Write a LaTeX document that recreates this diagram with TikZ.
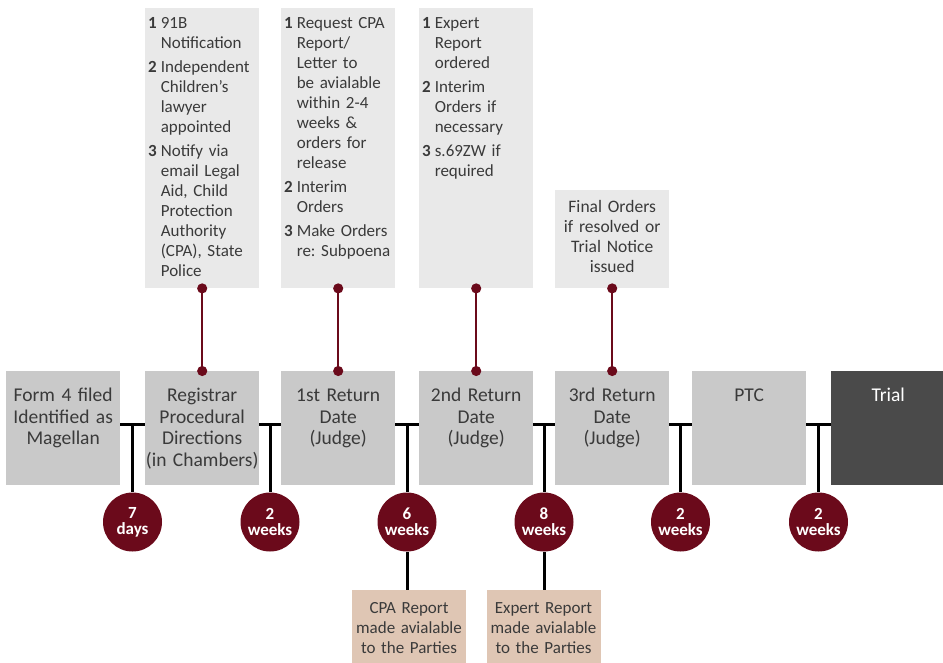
\documentclass[tikz,border=0pt]{standalone}
\usepackage{fontspec}
\setmainfont{Carlito}
\usetikzlibrary{arrows.meta}
\definecolor{wine}{HTML}{6B0A1B}
\definecolor{stagegrey}{HTML}{C9C9C9}
\definecolor{notegrey}{HTML}{E9E9E9}
\definecolor{trialgrey}{HTML}{4A4A4A}
\definecolor{sand}{HTML}{DFC6B4}
\definecolor{ink}{HTML}{3A3A3A}
\tikzset{
  stage/.style={fill=stagegrey,text=ink,anchor=north west,inner sep=0pt,
    minimum width=114pt,text width=114pt,align=center,
    text height=30.5pt,text depth=83.5pt,font=\fontsize{19.5}{21.5}\selectfont},
  note/.style={fill=notegrey,text=ink,anchor=north west,inner xsep=3pt,inner ysep=0pt,
    minimum width=114pt,text width=108pt,align=left,
    text height=20pt,text depth=260pt,font=\fontsize{17}{20}\selectfont},
  outcome/.style={fill=notegrey,text=ink,anchor=north west,inner sep=0pt,
    minimum width=114pt,text width=114pt,align=center,
    text height=22pt,text depth=76pt,font=\fontsize{17.5}{20}\selectfont},
  result/.style={fill=sand,text=ink,anchor=north,inner sep=0pt,
    minimum width=114pt,text width=114pt,align=center,
    text height=23pt,text depth=53pt,font=\fontsize{17}{20}\selectfont},
  gap/.style={circle,fill=wine,text=white,minimum size=59pt,inner sep=0pt,
    align=center,font=\bfseries\fontsize{17}{16}\selectfont},
  tline/.style={line width=3pt,black},
  link/.style={wine,line width=2pt,{Circle[length=10pt]}-{Circle[length=10pt]},
    shorten <=-5pt,shorten >=-5pt}
}
\begin{document}
\begin{tikzpicture}[x=1pt,y=-1pt]
    \useasboundingbox (0,0) rectangle (943,662);
    \coordinate (tl) at (0,424);
    % Stages
    \node[stage] (s1) at (6,371) {Form 4 filed\\Identified as\\Magellan};
    \node[stage] (s2) at (145,371) {Registrar\\Procedural\\Directions\\(in Chambers)};
    \node[stage] (s3) at (281,371) {1st Return\\Date\\(Judge)};
    \node[stage] (s4) at (419,371) {2nd Return\\Date\\(Judge)};
    \node[stage] (s5) at (555,371) {3rd Return\\Date\\(Judge)};
    \node[stage] (s6) at (692,371) {PTC};
    \node[stage,fill=trialgrey,text=white] (s7) at (831,371) {Trial};
    % Orders above
    \node[note] (n2) at (145,8) {\begin{tabular}[t]{@{}l@{\hspace{4pt}}l@{}}
      \textbf{1} & 91B\\ & Notification\\[4pt]
      \textbf{2} & Independent\\ & Children's\\ & lawyer\\ & appointed\\[4pt]
      \textbf{3} & Notify via\\ & email Legal\\ & Aid, Child\\ & Protection\\ & Authority\\ & (CPA), State\\ & Police
    \end{tabular}};
    \node[note] (n3) at (281,8) {\begin{tabular}[t]{@{}l@{\hspace{4pt}}l@{}}
      \textbf{1} & Request CPA\\ & Report/\\ & Letter to\\ & be avialable\\ & within 2-4\\ & weeks \&\\ & orders for\\ & release\\[4pt]
      \textbf{2} & Interim\\ & Orders\\[4pt]
      \textbf{3} & Make Orders\\ & re:\ Subpoena
    \end{tabular}};
    \node[note] (n4) at (419,8) {\begin{tabular}[t]{@{}l@{\hspace{4pt}}l@{}}
      \textbf{1} & Expert\\ & Report\\ & ordered\\[4pt]
      \textbf{2} & Interim\\ & Orders if\\ & necessary\\[4pt]
      \textbf{3} & s.69ZW if\\ & required
    \end{tabular}};
    \node[outcome] (n5) at (555,190) {Final Orders\\if resolved or\\Trial Notice\\issued};
    % Intervals
    \node[gap] (g1) at (132.5,522) {7\\days};
    \node[gap] (g2) at (270,522) {2\\weeks};
    \node[gap] (g3) at (407,522) {6\\weeks};
    \node[gap] (g4) at (544,522) {8\\weeks};
    \node[gap] (g5) at (680.5,522) {2\\weeks};
    \node[gap] (g6) at (818.5,522) {2\\weeks};
    % Reports below
    \node[result] (r3) at (409,590) {CPA Report\\made avialable\\to the Parties};
    \node[result] (r4) at (543.5,590) {Expert Report\\made avialable\\to the Parties};
    % Timeline
    \draw[tline] (s1.east |- tl) -- (s2.west |- tl);
    \draw[tline] (s2.east |- tl) -- (s3.west |- tl);
    \draw[tline] (s3.east |- tl) -- (s4.west |- tl);
    \draw[tline] (s4.east |- tl) -- (s5.west |- tl);
    \draw[tline] (s5.east |- tl) -- (s6.west |- tl);
    \draw[tline] (s6.east |- tl) -- (s7.west |- tl);
    \draw[tline] (g1 |- tl) -- (g1.north);
    \draw[tline] (g2 |- tl) -- (g2.north);
    \draw[tline] (g3 |- tl) -- (g3.north);
    \draw[tline] (g4 |- tl) -- (g4.north);
    \draw[tline] (g5 |- tl) -- (g5.north);
    \draw[tline] (g6 |- tl) -- (g6.north);
    \draw[tline] (g3.south) -- (g3.south |- r3.north);
    \draw[tline] (g4.south) -- (g4.south |- r4.north);
    % Links
    \draw[link] (n2.south) -- (s2.north);
    \draw[link] (n3.south) -- (s3.north);
    \draw[link] (n4.south) -- (s4.north);
    \draw[link] (n5.south) -- (s5.north);
\end{tikzpicture}
\end{document}
